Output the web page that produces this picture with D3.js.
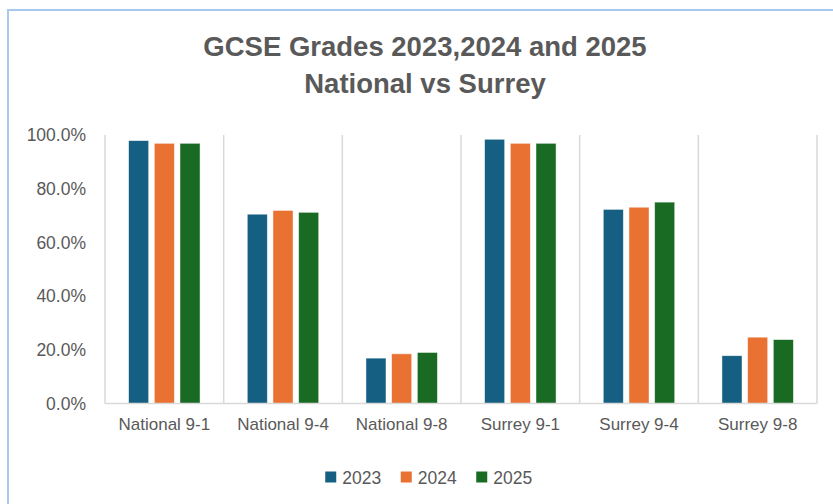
<!DOCTYPE html>
<html>
<head>
<meta charset="utf-8">
<script src="https://cdn.jsdelivr.net/npm/d3@7"></script>
<style>
  html, body { margin: 0; background: #fff; overflow: hidden; }
  svg { display: block; }
  text { font-family: "Liberation Sans", Arial, sans-serif; fill: #595959; }
</style>
</head>
<body>
<div id="chart"></div>
<script>
// categories + one array per year (percent)
let categories = ["National 9-1", "National 9-4", "National 9-8", "Surrey 9-1", "Surrey 9-4", "Surrey 9-8"];
let years = ["2023", "2024", "2025"];
let v2023 = [97.9, 70.5, 16.9, 98.4, 72.3, 17.8];
let v2024 = [96.9, 71.9, 18.5, 96.9, 73.1, 24.7];
let v2025 = [96.9, 71.2, 19.0, 96.9, 75.0, 23.8];
let yTicks = [0, 20, 40, 60, 80, 100];
let colors = ["#156082", "#E97132", "#196B24"];

let width = 833,
  height = 504;

let plot = {left: 105, right: 817, top: 135, bottom: 403.5};

let series = [v2023, v2024, v2025];

let svg = d3.select("#chart")
  .append("svg")
  .attr("width", width)
  .attr("height", height);

// chart frame: only top and left edges are inside the picture
svg.append("path")
  .attr("d", `M8,${height}V10H${width}`)
  .attr("fill", "none")
  .attr("stroke", "#a9c9ec")
  .attr("stroke-width", 2);

let x = d3.scaleBand()
  .domain(categories)
  .range([plot.left, plot.right]);

let xInner = d3.scaleBand()
  .domain(years)
  .range([0, x.bandwidth()])
  .paddingInner(0.22)
  .paddingOuter(0.92);

let y = d3.scaleLinear()
  .domain([0, 100])
  .range([plot.bottom, plot.top]);

let color = d3.scaleOrdinal().domain(years).range(colors);

// vertical separators between categories
let seps = categories.map(c => x(c)).concat([plot.right]);
svg.append("g")
  .selectAll("line")
  .data(seps)
  .join("line")
  .attr("x1", d => d)
  .attr("x2", d => d)
  .attr("y1", plot.top)
  .attr("y2", plot.bottom)
  .attr("stroke", "#d9d9d9")
  .attr("stroke-width", 1.5);

// bars
let rows = [];
categories.forEach((c, i) => {
  years.forEach((yr, j) => {
    rows.push({cat: c, year: yr, value: series[j][i]});
  });
});

svg.append("g")
  .selectAll("rect")
  .data(rows)
  .join("rect")
  .attr("x", d => x(d.cat) + xInner(d.year))
  .attr("y", d => y(d.value))
  .attr("width", xInner.bandwidth())
  .attr("height", d => y(0) - y(d.value))
  .attr("fill", d => color(d.year))
  .attr("stroke", "#fff")
  .attr("stroke-opacity", 0.6)
  .attr("stroke-width", 0.75);

// baseline
svg.append("line")
  .attr("x1", plot.left)
  .attr("x2", plot.right)
  .attr("y1", plot.bottom)
  .attr("y2", plot.bottom)
  .attr("stroke", "#d9d9d9")
  .attr("stroke-width", 1.5);

// y axis labels
let yAxis = d3.axisLeft(y)
  .tickValues(yTicks)
  .tickFormat(d => d3.format(".1f")(d) + "%")
  .tickSize(0)
  .tickPadding(19);

let gy = svg.append("g")
  .attr("transform", `translate(${plot.left},0)`)
  .call(yAxis);
gy.select(".domain").remove();
gy.selectAll("text")
  .style("font-size", "17.5px")
  .style("fill", "#595959");

// x axis labels
let xAxis = d3.axisBottom(x).tickSize(0).tickPadding(14);
let gx = svg.append("g")
  .attr("transform", `translate(0,${plot.bottom})`)
  .call(xAxis);
gx.select(".domain").remove();
gx.selectAll("text")
  .style("font-size", "17px")
  .style("fill", "#595959");

// title
let title = svg.append("text")
  .attr("text-anchor", "middle")
  .style("font-size", "27.5px")
  .style("font-weight", "bold");
title.append("tspan").attr("x", 425).attr("y", 55.5).text("GCSE Grades 2023,2024 and 2025");
title.append("tspan").attr("x", 425).attr("y", 93).text("National vs Surrey");

// legend
let legStep = 75.5;
let legStart = 428 - (legStep * years.length - 21) / 2;
let leg = svg.append("g")
  .selectAll("g")
  .data(years)
  .join("g")
  .attr("transform", (d, i) => `translate(${legStart + i * legStep},0)`);

leg.append("rect")
  .attr("x", 0)
  .attr("y", 471.5)
  .attr("width", 11)
  .attr("height", 11)
  .attr("fill", d => color(d));

leg.append("text")
  .attr("x", 17)
  .attr("y", 483.5)
  .style("font-size", "17.5px")
  .text(d => d);
</script>
</body>
</html>
